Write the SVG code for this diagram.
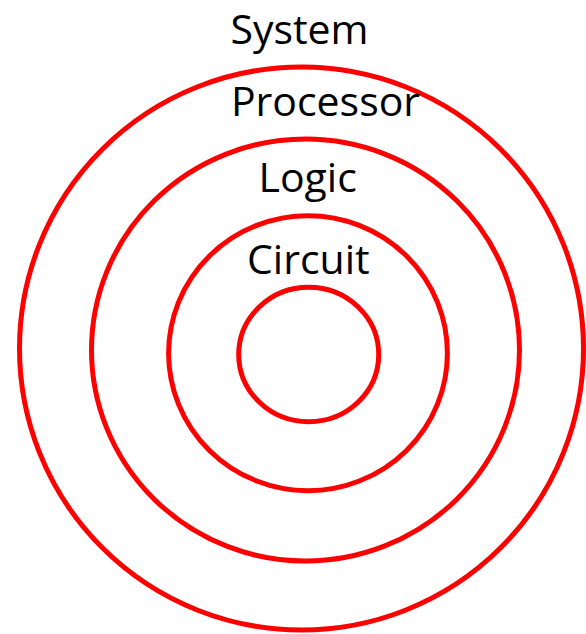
<svg xmlns="http://www.w3.org/2000/svg" width="586" height="634" viewBox="0 0 586 634">
<style>
.ring{fill:none;stroke:#FF0000;stroke-width:5}
.lbl{font-family:"Open Sans","Noto Sans","Liberation Sans",sans-serif;font-size:41px;fill:#000;text-anchor:middle}
</style>
<rect width="586" height="634" fill="#fff"/>
<g id="system">
<ellipse class="ring" cx="301.5" cy="348.5" rx="282" ry="281.5"/>
<text class="lbl" x="299.5" y="43.5">System</text>
</g>
<g id="processor">
<ellipse class="ring" cx="305.5" cy="350" rx="214" ry="211"/>
<text class="lbl" x="325.5" y="116">Processor</text>
</g>
<g id="logic">
<ellipse class="ring" cx="308" cy="353.2" rx="139.4" ry="137.5"/>
<text class="lbl" x="307.7" y="192.3">Logic</text>
</g>
<g id="circuit">
<ellipse class="ring" cx="308.7" cy="354.5" rx="70" ry="67.2"/>
<text class="lbl" x="308.3" y="274">Circuit</text>
</g>
<g id="connectors"/>
</svg>
